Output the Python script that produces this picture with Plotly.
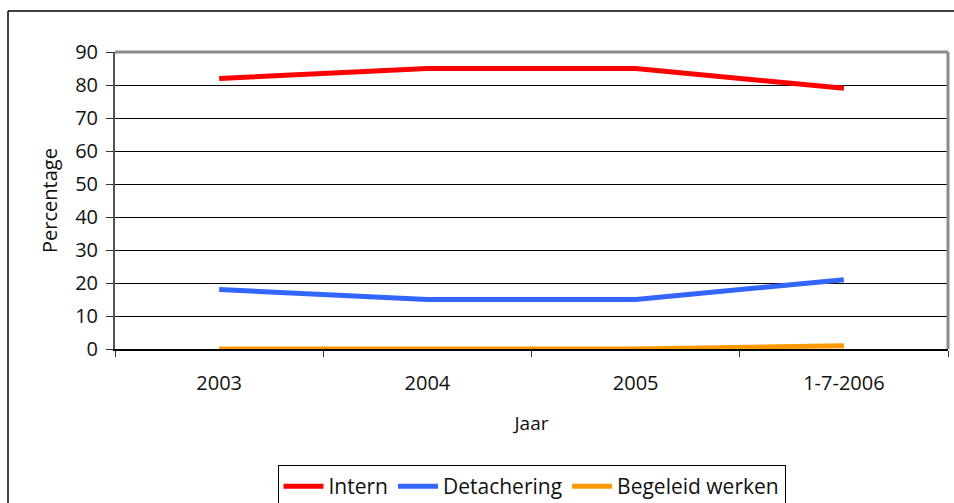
import plotly.graph_objects as go

years = ["2003", "2004", "2005", "1-7-2006"]
intern = [82, 85, 85, 79]
detachering = [18, 15, 15, 21]
begeleid = [0, 0, 0, 1]
y_ticks = [0, 10, 20, 30, 40, 50, 60, 70, 80, 90]

FONT = "Open Sans"
W, H = 954, 503
L, R, T, B = 115, 6, 52, 154
pw, ph = W - L - R, H - T - B

fig = go.Figure()
for name, vals, col in [("Intern", intern, "#ff0000"),
                        ("Detachering", detachering, "#3366ff"),
                        ("Begeleid werken", begeleid, "#ff9900")]:
    fig.add_trace(go.Scatter(x=years, y=vals, name=name, mode="lines",
                             line=dict(color=col, width=5)))

fig.update_layout(
    width=W, height=H,
    margin=dict(l=L, r=R, t=T, b=B, autoexpand=False),
    paper_bgcolor="white", plot_bgcolor="white",
    font=dict(family=FONT, size=19, color="#111"),
    showlegend=True,
    legend=dict(orientation="h", x=0.5, xanchor="center",
                y=(T + ph - 465) / ph, yanchor="top",
                bordercolor="black", borderwidth=1,
                font=dict(family=FONT, size=21, color="#111"), itemwidth=40,
                tracegroupgap=0),
    xaxis=dict(type="category", range=[-0.5, 3.5], tickson="boundaries",
               ticks="outside", ticklen=6, tickcolor="#333",
               tickfont=dict(family=FONT, size=20, color="#111"),
               showline=True, linecolor="black", linewidth=2,
               showgrid=False, ticklabelstandoff=15,
               title=dict(text="Jaar", standoff=22,
                          font=dict(family=FONT, size=19, color="#111"))),
    yaxis=dict(range=[0, 90], tickvals=y_ticks, ticks="outside", ticklen=7,
               tickcolor="#333", showline=True, linecolor="#555", linewidth=2,
               tickfont=dict(family=FONT, size=20, color="#111"),
               showgrid=True, gridcolor="black", gridwidth=1, zeroline=False,
               ticklabelstandoff=4,
               title=dict(text="Percentage", standoff=12,
                          font=dict(family=FONT, size=20, color="#111"))),
    shapes=[
        dict(type="line", xref="paper", yref="paper", x0=0, x1=1, y0=1, y1=1,
             line=dict(color="#8c8c8c", width=3)),
        dict(type="line", xref="paper", yref="paper", x0=1, x1=1, y0=0, y1=1,
             line=dict(color="#8c8c8c", width=3)),
        dict(type="line", xref="paper", yref="paper",
             x0=(8 - L) / pw, x1=(W + 5 - L) / pw,
             y0=1 + (T - 11) / ph, y1=1 + (T - 11) / ph,
             line=dict(color="black", width=1.5)),
        dict(type="line", xref="paper", yref="paper",
             x0=(8 - L) / pw, x1=(8 - L) / pw,
             y0=1 + (T - 11) / ph, y1=-(B + 5) / ph,
             line=dict(color="black", width=1.5)),
    ],
)

fig.write_html(
    "out.html",
    config={"displayModeBar": False},
    post_script="document.body.style.margin='0';"
                "document.body.style.overflow='hidden';",
)
